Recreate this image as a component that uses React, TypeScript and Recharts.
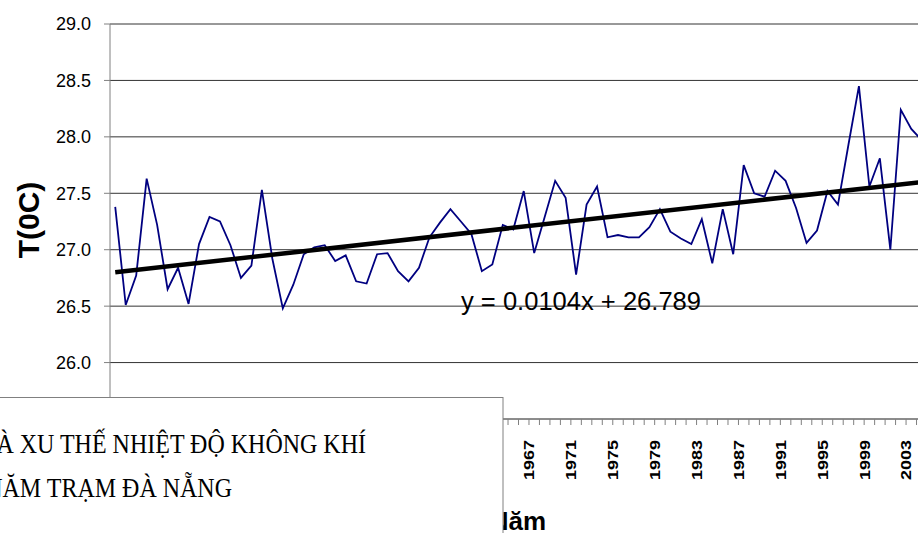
import React from 'react';
import { LineChart, Line, XAxis, YAxis, CartesianGrid, ReferenceLine } from 'recharts';

// Da Nang station, annual mean air temperature
const years = [
  1928, 1929, 1930, 1931, 1932, 1933, 1934, 1935, 1936, 1937,
  1938, 1939, 1940, 1941, 1942, 1943, 1944, 1945, 1946, 1947,
  1948, 1949, 1950, 1951, 1952, 1953, 1954, 1955, 1956, 1957,
  1958, 1959, 1960, 1961, 1962, 1963, 1964, 1965, 1966, 1967,
  1968, 1969, 1970, 1971, 1972, 1973, 1974, 1975, 1976, 1977,
  1978, 1979, 1980, 1981, 1982, 1983, 1984, 1985, 1986, 1987,
  1988, 1989, 1990, 1991, 1992, 1993, 1994, 1995, 1996, 1997,
  1998, 1999, 2000, 2001, 2002, 2003, 2004, 2005,
];

const temps = [
  27.38, 26.51, 26.77, 27.63, 27.22, 26.65, 26.84, 26.52, 27.05, 27.29,
  27.25, 27.04, 26.75, 26.86, 27.53, 26.92, 26.48, 26.69, 26.96, 27.02,
  27.04, 26.9, 26.95, 26.72, 26.7, 26.96, 26.97, 26.81, 26.72, 26.84,
  27.11, 27.24, 27.36, 27.25, 27.14, 26.81, 26.87, 27.22, 27.18, 27.52,
  26.97, 27.29, 27.61, 27.46, 26.78, 27.4, 27.56, 27.11, 27.13, 27.11,
  27.11, 27.2, 27.36, 27.16, 27.1, 27.05, 27.27, 26.88, 27.36, 26.96,
  27.75, 27.5, 27.47, 27.7, 27.61, 27.37, 27.06, 27.17, 27.52, 27.4,
  27.93, 28.45, 27.56, 27.81, 27.0, 28.24, 28.07, 27.97,
];

const labelYears = [
  1931, 1935, 1939, 1943, 1947, 1951, 1955, 1959, 1963, 1967,
  1971, 1975, 1979, 1983, 1987, 1991, 1995, 1999, 2003,
];

const yTicks = [25.5, 26.0, 26.5, 27.0, 27.5, 28.0, 28.5, 29.0];

// linear trend as printed on the chart, x = 1, 2, 3 ...
const trendSlope = 0.0104;
const trendIntercept = 26.789;

const data = years.map((year, i) => ({ year, temp: temps[i] }));
// category boundaries, where the small tick marks sit
const tickBounds = [...years.map((y) => y - 0.5), years[years.length - 1] + 0.5];

const sans = '"Liberation Sans", Arial, sans-serif';
const serif = '"Liberation Serif", "Times New Roman", serif';

// Excel-style: the year label sits on the tick mark to the right of its point
const YearTick = (props: any) => {
  const { x, payload } = props;
  const yr = Math.round(payload.value - 0.5);
  if (!labelYears.includes(yr)) return <g />;
  return (
    <text
      x={x}
      y={440}
      transform={`rotate(-90, ${x}, 440)`}
      textAnchor="end"
      dy="0.36em"
      fontSize={15}
      fontWeight="bold"
      fontFamily={sans}
      fill="#000"
      textLength={40}
      lengthAdjust="spacingAndGlyphs"
    >
      {yr}
    </text>
  );
};

export default function App() {
  const n = years.length;
  return (
    <div
      style={{
        position: 'absolute',
        left: 0,
        top: 0,
        width: 918,
        height: 533,
        overflow: 'hidden',
        background: '#fff',
      }}
    >
      <LineChart width={960} height={533} data={data} margin={{ top: 24, right: 33, bottom: 0, left: 0 }}>
        <CartesianGrid vertical={false} stroke="#333" strokeWidth={1} />
        <XAxis
          type="number"
          dataKey="year"
          domain={[1927.5, 2005.5]}
          ticks={tickBounds}
          interval={0}
          tick={<YearTick />}
          tickSize={6}
          height={114}
          axisLine={{ stroke: '#808080' }}
          tickLine={{ stroke: '#808080' }}
        />
        <YAxis
          domain={[25.5, 29]}
          ticks={yTicks}
          interval={0}
          width={110}
          tickSize={6}
          tickMargin={13}
          tickFormatter={(v: number) => v.toFixed(1)}
          tick={{ fill: '#000', fontSize: 18, fontFamily: sans }}
          axisLine={{ stroke: '#808080' }}
          tickLine={{ stroke: '#808080' }}
        />
        <Line
          type="linear"
          dataKey="temp"
          stroke="#000080"
          strokeWidth={1.8}
          dot={false}
          activeDot={false}
          isAnimationActive={false}
        />
        <ReferenceLine
          segment={[
            { x: years[0], y: trendIntercept + trendSlope * 1 },
            { x: years[n - 1], y: trendIntercept + trendSlope * n },
          ]}
          stroke="#000"
          strokeWidth={4.5}
        />
      </LineChart>

      <svg
        width={918}
        height={533}
        style={{ position: 'absolute', left: 0, top: 0, pointerEvents: 'none' }}
      >
        <text
          x={461}
          y={310}
          fontSize={26}
          fontFamily={sans}
          fill="#000"
          textLength={240}
          lengthAdjust="spacingAndGlyphs"
        >
          y = 0.0104x + 26.789
        </text>
        <text
          x={39}
          y={220}
          transform="rotate(-90, 39, 220)"
          textAnchor="middle"
          fontSize={30}
          fontWeight="bold"
          fontFamily={sans}
          fill="#000"
        >
          T(0C)
        </text>
        <text x={518} y={530} textAnchor="middle" fontSize={26} fontWeight="bold" fontFamily={sans} fill="#000">
          Năm
        </text>

        <rect x={-5} y={397.5} width={508} height={200} fill="#fff" stroke="#808080" strokeWidth={1} />
        <text
          transform="translate(366, 453) scale(1, 1.12)"
          textAnchor="end"
          fontSize={24}
          fontFamily={serif}
          fill="#000"
        >
          VÀ XU THẾ NHIỆT ĐỘ KHÔNG KHÍ
        </text>
        <text
          transform="translate(232, 497) scale(1, 1.12)"
          textAnchor="end"
          fontSize={24}
          fontFamily={serif}
          fill="#000"
        >
          NĂM TRẠM ĐÀ NẴNG
        </text>
      </svg>
    </div>
  );
}
